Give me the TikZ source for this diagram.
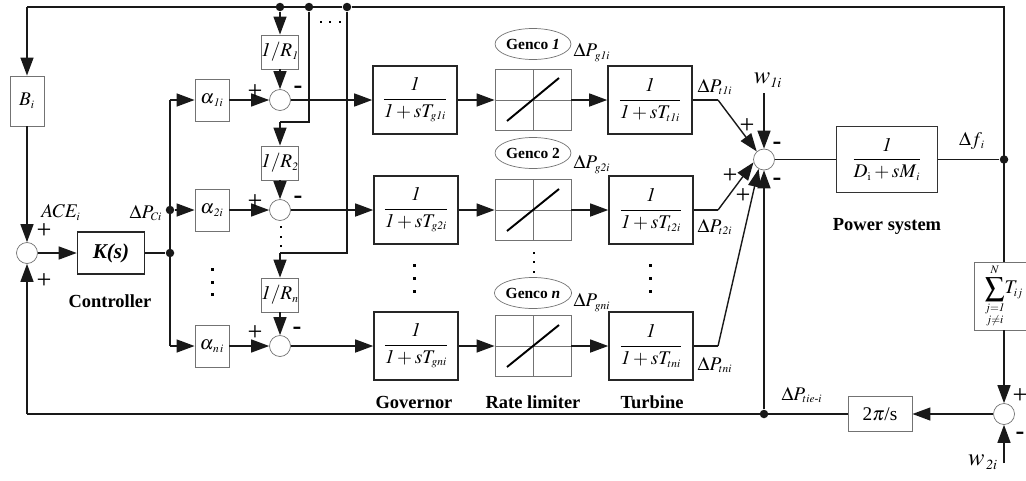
\documentclass[tikz,border=0pt]{standalone}
\usepackage{amsmath}
\usepackage{mathptmx}
\usepackage[no-math]{fontspec}
\setmainfont{Liberation Serif}
\usepackage{tikz}
\usetikzlibrary{arrows.meta}
\usetikzlibrary{calc}
\usetikzlibrary{shapes.geometric}
\DeclareMathSizes{11}{11}{6.5}{5}
\DeclareMathSizes{14}{14}{8}{6}
\newcommand{\lagfrac}[1]{$\displaystyle\frac{\mathit{1}}{\mathit{1}+sT_{#1}}$}
\tikzset{sumnode/.style={draw=black!55,fill=white,circle,line width=0.4pt,inner sep=0pt,minimum size=0.42cm},
         dotnode/.style={fill=black!90,circle,inner sep=0pt,minimum size=0.17cm},
         thinblock/.style={draw=black!55,line width=0.5pt,inner sep=0pt},
         thickblock/.style={draw=black!85,line width=0.9pt,inner sep=0pt},
         lagblock/.style={thickblock,minimum width=1.68cm,minimum height=1.36cm},
         gainblock/.style={thinblock,minimum width=0.68cm,minimum height=0.84cm},
         droopblock/.style={thinblock,minimum width=0.66cm,minimum height=0.68cm},
         limblock/.style={thinblock,minimum width=1.52cm,minimum height=1.22cm},
         gencotag/.style={draw=black!55,ellipse,line width=0.4pt,inner sep=0pt,minimum width=1.38cm,minimum height=0.62cm,font=\fontsize{8.8}{11}\selectfont\bfseries},
         caption/.style={font=\fontsize{10.5}{12}\selectfont\bfseries},
         signtext/.style={font=\fontsize{15}{15}\selectfont,inner sep=0pt,yshift=-1pt},
         wire/.style={line width=0.8pt,black!90},
         limline/.style={line width=0.4pt,black!55}}
\begin{document}
\begin{tikzpicture}[x=0.02cm,y=-0.02cm,>={Triangle[length=0.36cm,width=0.26cm]},every node/.style={font=\fontsize{11}{13}\selectfont}]
\useasboundingbox (0,0) rectangle (1026,480);
% left part
\node[sumnode] (sumace) at (27,253) {};
\node[thinblock,minimum width=0.68cm,minimum height=1cm] (bias) at (27,101) {$B_i$};
\node[thickblock,minimum width=1.34cm,minimum height=0.84cm,font=\fontsize{12}{14}\selectfont\bfseries\itshape] (ctrl) at (111,253) {K(s)};
\node[dotnode] (dpc) at (170,210) {};
\node[dotnode] (ctrlout) at (170,253) {};
\coordinate (tl) at (27,7);
\coordinate (bl) at (27,414);
\coordinate (c1) at (170,100);
\coordinate (cn) at (170,346);
% gains
\node[gainblock] (gain1) at (212,100) {$\alpha_{\,\mathit{1}i}$};
\node[gainblock] (gain2) at (212,210) {$\alpha_{\,\mathit{2}i}$};
\node[gainblock] (gainn) at (212,346) {$\alpha_{\,n\,i}$};
\node[sumnode] (sum1) at (280,100) {};
\node[sumnode] (sum2) at (280,210) {};
\node[sumnode] (sumn) at (280,346) {};
\node[droopblock] (droop1) at (280,52) {$\mathit{1}/R_{\mathit{1}}$};
\node[droopblock] (droop2) at (280,163) {$\mathit{1}/R_{\mathit{2}}$};
\node[droopblock] (droopn) at (280,295) {$\mathit{1}/R_{n}$};
\node[dotnode] (top1) at (280,7) {};
\node[dotnode] (top2) at (309,7) {};
\node[dotnode] (top3) at (347,7) {};
\coordinate (b2a) at (309,122);
\coordinate (b2b) at (280,122);
\coordinate (b3a) at (347,253);
\coordinate (b3b) at (280,253);
% three rows
\node[lagblock] (gov1) at (415,100) {\lagfrac{g\mathit{1}i}};
\node[lagblock] (gov2) at (416,210) {\lagfrac{g\mathit{2}i}};
\node[lagblock] (govn) at (416,346) {\lagfrac{gni}};
\node[limblock] (lim1) at (533,100) {};
\node[limblock] (lim2) at (533,210) {};
\node[limblock] (limn) at (533,346) {};
\node[lagblock] (tur1) at (650,100) {\lagfrac{t\mathit{1}i}};
\node[lagblock] (tur2) at (651,210) {\lagfrac{t\mathit{2}i}};
\node[lagblock] (turn) at (651,346) {\lagfrac{tni}};
\node[gencotag] (genco1) at (533,44) {Genco \textit{1}};
\node[gencotag] (genco2) at (533,153) {Genco 2};
\node[gencotag,minimum width=1.44cm] (gencon) at (533,293) {Genco \textit{n}};
\coordinate (t1) at (718,100);
\coordinate (t2) at (718,210);
\coordinate (tn) at (718,346);
% right part
\node[sumnode] (sumg) at (764,159.5) {};
\node[thinblock,draw=black!80,minimum width=2.02cm,minimum height=1.32cm] (plant) at (887,159.5) {$\displaystyle\frac{\mathit{1}}{D_{\mathrm{i}}+sM_{\,i}}$};
\node[dotnode] (freq) at (1004,159.5) {};
\node[thinblock,minimum width=1.2cm,minimum height=1.36cm] (sync) at (1004,296) {$\displaystyle\sum_{\substack{j=\mathit{1}\\j\neq i}}^{N}\!T_{ij}$};
\node[sumnode] (sumtie) at (1004,414) {};
\node[thinblock,minimum width=1.28cm,minimum height=0.7cm] (integ) at (880,414) {2$\pi$/s};
\node[dotnode] (tie) at (764,414) {};
\coordinate (tr) at (1004,7);
\coordinate (w1) at (764,93);
\coordinate (w2) at (1004,463);
% wires
\draw[wire] (top3) -- (tl);
\draw[wire,->] (tl) -- (bias.north);
\draw[wire,->] (bias.south) -- (sumace.north);
\draw[wire,->] (sumace.east) -- (ctrl.west);
\draw[wire] (ctrl.east) -- (ctrlout);
\draw[wire] (c1) -- (cn);
\draw[wire,->] (c1) -- (gain1.west);
\draw[wire,->] (dpc) -- (gain2.west);
\draw[wire,->] (cn) -- (gainn.west);
\draw[wire,->] (gain1.east) -- (sum1.west);
\draw[wire,->] (gain2.east) -- (sum2.west);
\draw[wire,->] (gainn.east) -- (sumn.west);
\draw[wire,->] (top1) -- (droop1.north);
\draw[wire,->] (droop1.south) -- (sum1.north);
\draw[wire] (top2) -- (b2a) -- (b2b);
\draw[wire,->] (b2b) -- (droop2.north);
\draw[wire,->] (droop2.south) -- (sum2.north);
\draw[wire] (top3) -- (b3a) -- (b3b);
\draw[wire,->] (b3b) -- (droopn.north);
\draw[wire,->] (droopn.south) -- (sumn.north);
\draw[wire,->] (sum1.east) -- (gov1.west);
\draw[wire,->] (sum2.east) -- (gov2.west);
\draw[wire,->] (sumn.east) -- (govn.west);
\draw[wire,->] (gov1.east) -- (lim1.west);
\draw[wire,->] (gov2.east) -- (lim2.west);
\draw[wire,->] (govn.east) -- (limn.west);
\draw[wire,->] (lim1.east) -- (tur1.west);
\draw[wire,->] (lim2.east) -- (tur2.west);
\draw[wire,->] (limn.east) -- (turn.west);
\draw[wire] (tur1.east) -- (t1);
\draw[wire] (tur2.east) -- (t2);
\draw[wire] (turn.east) -- (tn);
\draw[wire,->] (t1) -- (sumg.132);
\draw[wire,->] (t2) -- (sumg.195);
\draw[wire,->] (tn) -- (sumg.240);
\draw[wire,->] (w1) -- (sumg.north);
\draw[wire,->] (tie) -- (sumg.south);
\draw[wire] (sumg.east) -- (plant.west);
\draw[wire] (plant.east) -- (freq);
\draw[wire] (top3) -- (tr) -- (sync.north);
\draw[wire,->] (sync.south) -- (sumtie.north);
\draw[wire,->] (w2) -- (sumtie.south);
\draw[wire,->] (sumtie.west) -- (integ.east);
\draw[wire] (integ.west) -- (bl);
\draw[wire,->] (bl) -- (sumace.south);
% limiter crosses
\draw[limline] (lim1.north) -- (lim1.south);
\draw[limline] (lim1.west) -- (lim1.east);
\draw[limline] (lim2.north) -- (lim2.south);
\draw[limline] (lim2.west) -- (lim2.east);
\draw[limline] (limn.north) -- (limn.south);
\draw[limline] (limn.west) -- (limn.east);
\draw[line width=1.1pt] ($(lim1)+(-26,21)$) -- ($(lim1)+(26,-22)$);
\draw[line width=1.1pt] ($(lim2)+(-26,21)$) -- ($(lim2)+(26,-21)$);
\draw[line width=1.1pt] ($(limn)+(-26,21)$) -- ($(limn)+(26,-21)$);
% dots
\foreach \y in {269,282,294} \fill (212,\y) +(-1.5,-1.5) rectangle +(1.5,1.5);
\foreach \y in {265,278,291} \fill (414,\y) +(-1.5,-1.5) rectangle +(1.5,1.5);
\foreach \y in {265,278,291} \fill (650,\y) +(-1.5,-1.5) rectangle +(1.5,1.5);
\foreach \y in {253,262,272} \fill (534,\y) +(-1.3,-1.3) rectangle +(1.3,1.3);
\foreach \y in {227,237,246} \fill (281,\y) +(-1.3,-1.3) rectangle +(1.3,1.3);
\foreach \x in {321,330,340} \fill (\x,22) +(-1.3,-1.3) rectangle +(1.3,1.3);
% signs
\node[signtext] (p1) at (44,229) {+};
\node[signtext] (p2) at (44,279) {+};
\node[signtext] (p3) at (255,90) {+};
\node[signtext] (p4) at (255,200) {+};
\node[signtext] (p5) at (255,331) {+};
\node[signtext] (m1) at (298,88) {\textbf{-}};
\node[signtext] (m2) at (298,198) {\textbf{-}};
\node[signtext] (m3) at (297,329) {\textbf{-}};
\node[signtext] (p6) at (747,124) {+};
\node[signtext] (p7) at (730,174) {+};
\node[signtext] (p8) at (743,194) {+};
\node[signtext] (m4) at (777,144) {\textbf{-}};
\node[signtext] (m5) at (777,180) {\textbf{-}};
\node[signtext] (p9) at (1020,394) {+};
\node[signtext] (m6) at (1020,434) {\textbf{-}};
% labels
\node[inner sep=0pt] (lblace) at (61,213) {$ACE_i$};
\node[inner sep=0pt] (lbldpc) at (146,213) {$\Delta P_{Ci}$};
\node[caption] (capctrl) at (110,301) {Controller};
\node[caption] (capgov) at (414,402) {Governor};
\node[caption] (caplim) at (533,402) {Rate limiter};
\node[caption] (captur) at (652,402) {Turbine};
\node[caption] (capsys) at (887,226) {Power system};
\node (lblg1) at (592,53) {$\Delta P_{g\mathit{1}i}$};
\node (lblg2) at (592,165) {$\Delta P_{g\mathit{2}i}$};
\node (lblgn) at (592,303) {$\Delta P_{gni}$};
\node (lblt1) at (715,87) {$\Delta P_{t\mathit{1}i}$};
\node (lblt2) at (715,227) {$\Delta P_{t\mathit{2}i}$};
\node (lbltn) at (715,365) {$\Delta P_{tni}$};
\node (lblf) at (972,141) {$\Delta f_{\,i}$};
\node (lbltie) at (802,395) {$\Delta P_{tie\text{-}i}$};
\node[font=\fontsize{14}{16}\selectfont] (lblw1) at (768,80) {$w_{\mathit{1}i}$};
\node[font=\fontsize{14}{16}\selectfont] (lblw2) at (983,462) {$w_{\,\mathit{2}i}$};
\end{tikzpicture}
\end{document}
